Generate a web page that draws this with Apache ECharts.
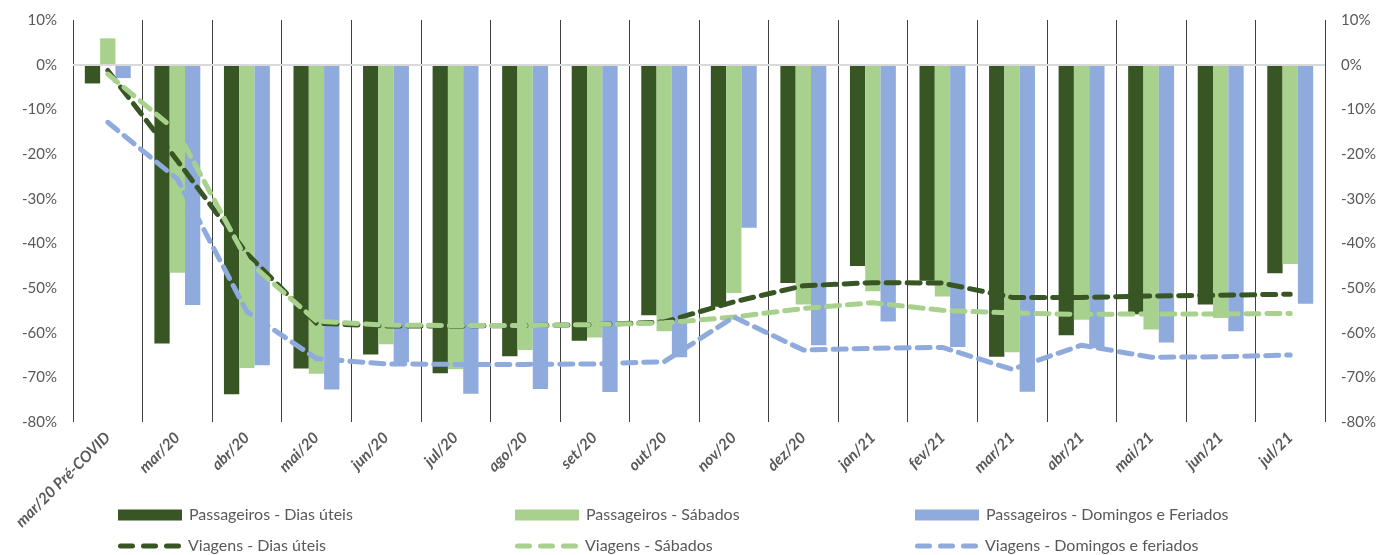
<!DOCTYPE html>
<html>
<head>
<meta charset="utf-8">
<script src="https://cdn.jsdelivr.net/npm/echarts@6/dist/echarts.min.js"></script>
<style>
html,body{margin:0;padding:0;background:#fff;}
#chart{width:1379px;height:555px;}
</style>
</head>
<body>
<div id="chart"></div>
<script>
const categories = ['mar/20 Pré-COVID','mar/20','abr/20','mai/20','jun/20','jul/20','ago/20','set/20','out/20','nov/20','dez/20','jan/21','fev/21','mar/21','abr/21','mai/21','jun/21','jul/21'];

const passDiasUteis = [-4.2,-62.4,-73.8,-68.0,-64.9,-69.1,-65.3,-61.8,-56.1,-54.2,-48.9,-45.1,-48.4,-65.4,-60.6,-55.9,-53.7,-46.7];
const passSabados   = [5.9,-46.6,-67.9,-69.2,-62.6,-68.2,-63.9,-61.1,-59.7,-51.1,-53.7,-50.7,-51.9,-64.4,-57.1,-59.3,-56.7,-44.6];
const passDomingos  = [-3.0,-53.8,-67.3,-72.7,-66.6,-73.7,-72.6,-73.3,-65.5,-36.5,-62.8,-57.5,-63.2,-73.2,-63.5,-62.2,-59.7,-53.5];

const viagDiasUteis = [-1.3,-21.5,-42.3,-57.9,-58.5,-58.5,-58.4,-58.2,-57.6,-53.1,-49.5,-48.8,-48.9,-52.1,-52.1,-51.8,-51.6,-51.4];
const viagSabados   = [-2.1,-15.0,-43.8,-57.4,-58.3,-58.4,-58.4,-58.2,-57.8,-56.5,-54.6,-53.3,-55.0,-55.6,-55.9,-55.8,-55.8,-55.7];
const viagDomingos  = [-12.9,-25.6,-55.3,-65.8,-67.0,-67.1,-67.1,-67.0,-66.5,-56.5,-63.9,-63.5,-63.3,-68.2,-62.8,-65.5,-65.4,-65.0];

const yTicks = {min:-80, max:10, interval:10};

const cDark = '#375623', cLight = '#A9D18E', cBlue = '#8FAADC';
const FONT = 'Lato';
const txt = '#595959';
const DASH = [13,8];

const chart = echarts.init(document.getElementById('chart'), null, {renderer:'canvas'});

function barSeries(name, data, color, extra){
  return Object.assign({
    name, type:'bar', data, barGap:'0%', barCategoryGap:'34%',
    itemStyle:{color}, emphasis:{disabled:true}
  }, extra||{});
}
function lineSeries(name, data, color){
  return {
    name, type:'line', data, symbol:'none', showSymbol:false, z:5,
    lineStyle:{color:color, width:5, type:DASH, cap:'round', join:'round'},
    itemStyle:{color}, emphasis:{disabled:true}
  };
}

function dashIcon(){
  let p = '';
  for (let i = 0; i < 3; i++) {
    const x0 = i*23 + 2.5, x1 = i*23 + 14.5;
    p += 'M' + x0 + ',0 H' + x1 + ' A2.5,2.5 0 0 1 ' + x1 + ',5 H' + x0 + ' A2.5,2.5 0 0 1 ' + x0 + ',0 Z ';
  }
  return 'path://' + p;
}

function legendItem(name, left, top, isLine, color){
  return {
    left, top, padding:0, itemWidth:isLine ? 63 : 64, itemHeight: isLine ? 6 : 11, itemGap:0,
    selectedMode:false,
    textStyle:{fontFamily:FONT, fontSize:16, lineHeight:14, color:txt, padding:[0,0,0,2]},
    data:[{name, icon: isLine ? dashIcon() : 'rect', itemStyle: isLine ? {color} : undefined}]
  };
}

chart.setOption({
  animation:false,
  grid:{left:73, right:52, top:20, bottom:133, containLabel:false},
  legend:[
    legendItem('Passageiros - Dias úteis', 118, 507, false),
    legendItem('Viagens - Dias úteis', 118, 538, true, cDark),
    legendItem('Passageiros - Sábados', 515, 507, false),
    legendItem('Viagens - Sábados', 515, 538, true, cLight),
    legendItem('Passageiros - Domingos e Feriados', 915, 507, false),
    legendItem('Viagens - Domingos e feriados', 915, 538, true, cBlue)
  ],
  xAxis:{
    type:'category', data:categories, boundaryGap:true,
    axisLine:{show:false}, axisTick:{show:false},
    splitLine:{show:true, interval:0, lineStyle:{color:'#404040', width:1}},
    axisLabel:{interval:0, rotate:45, margin:13, fontFamily:FONT, fontSize:15.5,
      fontStyle:'italic', fontWeight:'bold', color:txt}
  },
  yAxis:[
    {type:'value', min:yTicks.min, max:yTicks.max, interval:yTicks.interval,
      axisLine:{show:false}, axisTick:{show:false}, splitLine:{show:false},
      axisLabel:{formatter:'{value}%', margin:16, fontFamily:FONT, fontSize:15, color:txt}},
    {type:'value', position:'right', min:yTicks.min, max:yTicks.max, interval:yTicks.interval,
      axisLine:{show:false}, axisTick:{show:false}, splitLine:{show:false},
      axisLabel:{formatter:'{value}%', margin:16, fontFamily:FONT, fontSize:15, color:txt}}
  ],
  series:[
    barSeries('Passageiros - Dias úteis', passDiasUteis, cDark, {
      markLine:{silent:true, symbol:'none', label:{show:false},
        lineStyle:{color:'#d9d9d9', width:2, type:'solid'}, data:[{yAxis:0}]}
    }),
    barSeries('Passageiros - Sábados', passSabados, cLight),
    barSeries('Passageiros - Domingos e Feriados', passDomingos, cBlue),
    lineSeries('Viagens - Dias úteis', viagDiasUteis, cDark),
    lineSeries('Viagens - Sábados', viagSabados, cLight),
    lineSeries('Viagens - Domingos e feriados', viagDomingos, cBlue)
  ]
});
</script>
</body>
</html>
